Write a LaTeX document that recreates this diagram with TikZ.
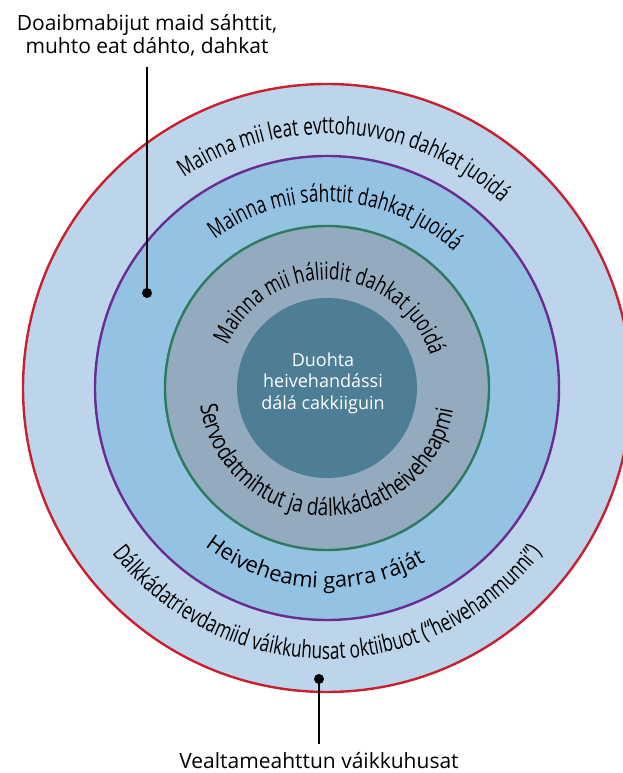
\documentclass[tikz,border=0pt]{standalone}
\usepackage{fontspec}
\setmainfont{Open Sans}
\newfontfamily\narrowfont{Open Sans}[FakeStretch=0.72]
\newfontfamily\halfnarrowfont{Open Sans}[FakeStretch=0.79]
\usepackage{tikz}
\usetikzlibrary{positioning, decorations.text}
\usepackage{xcolor}

\definecolor{ringouter}{HTML}{BDD5EB}
\definecolor{ringmid}{HTML}{94C2E3}
\definecolor{ringinner}{HTML}{94AABE}
\definecolor{corefill}{HTML}{4E7D96}
\definecolor{edgered}{HTML}{C8202F}
\definecolor{edgepurple}{HTML}{6A2C91}
\definecolor{edgegreen}{HTML}{2E7A60}

\newcommand{\arcfont}{\narrowfont\fontsize{24}{28}\selectfont}
\newcommand{\wideArcfont}{\halfnarrowfont\fontsize{24}{28}\selectfont}
\newcommand{\plainarcfont}{\fontsize{22}{26}\selectfont}

\begin{document}
\begin{tikzpicture}[x=1pt, y=1pt,
    ring/.style={line width=2.4pt},
    callout/.style={line width=2.8pt, black},
    note/.style={align=center, inner sep=0pt, font=\fontsize{21}{23.5}\selectfont}]

    \useasboundingbox (0,0) rectangle (622,773);

    % Centre of the rings
    \coordinate (C) at (327,385);

    % Rings
    \filldraw[ring, draw=edgered, fill=ringouter] (C) circle (304);
    \filldraw[ring, draw=edgepurple, fill=ringmid] (C) circle (232);
    \filldraw[ring, draw=edgegreen, fill=ringinner] (C) circle (162);
    \fill[corefill] (C) circle (90);

    % Core
    \node[text=white, align=center, font=\fontsize{18}{21.5}\selectfont] (core) at (323,390)
        {Duohta\\heivehandássi\\dálá cakkiiguin};

    % Text along a ring: radius, start, end, font, text
    \newcommand{\ringtext}[5]{%
        \path[decorate, decoration={text along path, text align=center, text={|#4|#5}}]
            (C) ++(#2:#1) arc[start angle=#2, end angle=#3, radius=#1];
    }

    % Upper texts (clockwise)
    \ringtext{254}{148.5}{22.5}{\arcfont}{Mainna mii leat evttohuvvon dahkat juoidá}
    \ringtext{186}{150}{24}{\arcfont}{Mainna mii sáhttit dahkat juoidá}
    \ringtext{108}{170}{4}{\arcfont}{Mainna mii háliidit dahkat juoidá}

    % Lower texts (counter-clockwise)
    \ringtext{128}{186}{352}{\wideArcfont}{Servodatmihtut ja dálkkádatheiveheapmi}
    \ringtext{200}{196}{336}{\plainarcfont}{Heiveheami garra ráját}
    \ringtext{271}{190}{350}{\arcfont}{Dálkkádatrievdamiid váikkuhusat oktiibuot (“heivehanmunni”)}

    % Callouts
    \coordinate (topdot) at (147,480);
    \coordinate (bottomdot) at (319,94);
    \node[note, anchor=north] (topnote) at (147,759)
        {Doaibmabijut maid sáhttit,\\muhto eat dáhto, dahkat};
    \node[note, anchor=south] (bottomnote) at (319,4) {Vealtameahttun váikkuhusat};

    \draw[callout, shorten <=10pt] (topnote.south) -- (topdot);
    \draw[callout, shorten >=8pt] (bottomdot) -- (bottomnote.north);
    \fill (topdot) circle (5);
    \fill (bottomdot) circle (5);

\end{tikzpicture}
\end{document}
